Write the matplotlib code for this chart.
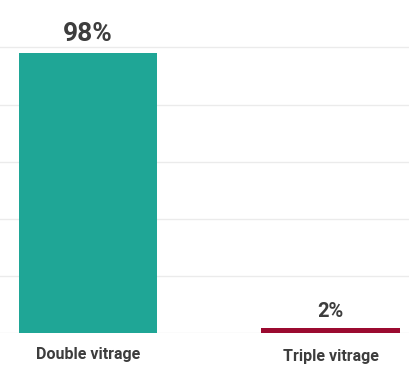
import matplotlib
matplotlib.use("Agg")
import matplotlib.pyplot as plt

categories = ["Double vitrage", "Triple vitrage"]
values = [98, 2]
value_labels = ["98%", "2%"]
colors = ["#1fa696", "#9b0a30"]
label_sizes = [19, 14.5]
grid_ticks = [0, 20, 40, 60, 80, 100]

plt.rcParams['font.family'] = ['Roboto', 'DejaVu Sans']

fig = plt.figure(figsize=(4.09, 3.75), dpi=100)
ax = fig.add_axes([0, 0.1107, 1, 0.8893])

x = list(range(len(categories)))
ax.bar(x, values, width=0.571, color=colors, zorder=2)
ax.set_xlim(-0.363, 1.324)
ax.set_ylim(0, 116.6)
ax.set_yticks(grid_ticks)
ax.yaxis.grid(True, color="#ebebeb", linewidth=1, zorder=0)
ax.tick_params(axis='y', left=False, labelleft=False)
ax.tick_params(axis='x', bottom=False, pad=6, labelsize=11.5, labelcolor="#3d3d3d")
ax.set_xticks(x)
ax.set_xticklabels(categories, fontweight='bold')
for s in ax.spines.values():
    s.set_visible(False)

offsets = [8.9, 8.1]
for xi, v, lab, fs, off in zip(x, values, value_labels, label_sizes, offsets):
    ax.annotate(lab, (xi, v), xytext=(0, off), textcoords='offset points',
                ha='center', va='baseline', fontsize=fs, fontweight='bold', color="#3d3d3d")

ticks = ax.xaxis.get_major_ticks()
ticks[1].set_pad(8)

fig.savefig("out.png", dpi=100)
